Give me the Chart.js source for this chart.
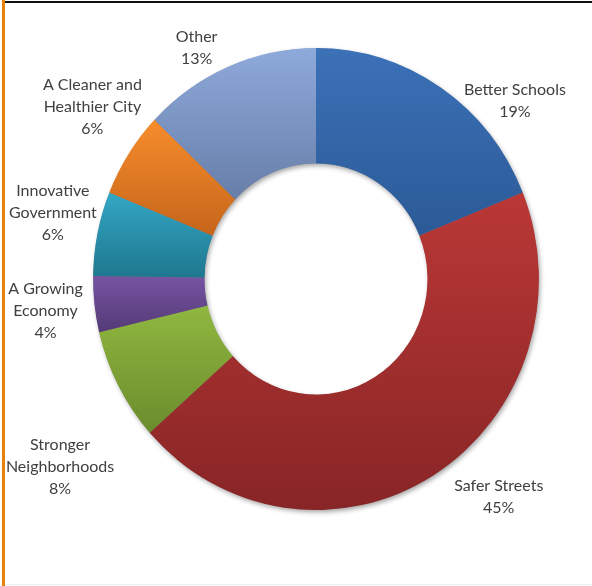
<!DOCTYPE html>
<html>
<head>
<meta charset="utf-8">
<script src="https://cdn.jsdelivr.net/npm/chart.js@4/dist/chart.umd.min.js"></script>
<style>
  html, body { margin: 0; padding: 0; background: #ffffff; }
  #wrap { position: relative; width: 592px; height: 586px; }
</style>
</head>
<body>
<div id="wrap"><canvas id="c" width="592" height="586"></canvas></div>
<script>
// ---- data ----
const categories = [
  ["Better Schools"],
  ["Safer Streets"],
  ["Stronger", "Neighborhoods"],
  ["A Growing", "Economy"],
  ["Innovative", "Government"],
  ["A Cleaner and", "Healthier City"],
  ["Other"]
];
const shares = [18.9, 44.5, 7.9, 3.9, 5.9, 6.0, 12.9];
const percentLabels = ["19%", "45%", "8%", "4%", "6%", "6%", "13%"];
const colorsTop    = ["#3C71B8", "#BA3836", "#90B740", "#7654A2", "#33A7C5", "#F78C2C", "#8EAADB"];
const colorsBottom = ["#2B5A96", "#882526", "#6B8C2C", "#543A77", "#1F778F", "#C5651B", "#677EA8"];

// label block centres, relative to pie centre, in units of the outer radius
const labelOffsets = [
  [0.861, -0.775], [0.791, 0.939], [-1.108, 0.807], [-1.171, 0.134],
  [-1.139, -0.290], [-0.968, -0.751], [-0.517, -1.006]
];

const CUTOUT = 0.5;
const X_SQUEEZE = 0.965; // the reference ring is slightly narrower than tall

function geom(chart) {
  const ca = chart.chartArea;
  const cx = (ca.left + ca.right) / 2, cy = (ca.top + ca.bottom) / 2;
  const R = Math.min(ca.right - ca.left, ca.bottom - ca.top) / 2;
  return { cx, cy, R, r: R * CUTOUT };
}

function sliceGradient(context) {
  const chart = context.chart;
  const i = context.dataIndex;
  if (!chart.chartArea) return colorsTop[i];
  const { cx, cy, R, r } = geom(chart);
  const total = shares.reduce((a, b) => a + b, 0);
  let before = 0;
  for (let k = 0; k < i; k++) before += shares[k];
  const a0 = -Math.PI / 2 + before / total * 2 * Math.PI;
  const a1 = a0 + shares[i] / total * 2 * Math.PI;
  const ys = [cy + R * Math.sin(a0), cy + R * Math.sin(a1), cy + r * Math.sin(a0), cy + r * Math.sin(a1)];
  let ymin = Math.min(...ys), ymax = Math.max(...ys);
  const inRange = (a) => {
    for (let t = a; t < a1 + 1e-9; t += 2 * Math.PI) if (t >= a0 - 1e-9) return true;
    return false;
  };
  if (inRange(Math.PI / 2) || inRange(Math.PI / 2 - 2 * Math.PI)) ymax = cy + R;
  if (inRange(-Math.PI / 2) || inRange(3 * Math.PI / 2)) ymin = cy - R;
  const g = chart.ctx.createLinearGradient(0, ymin, 0, ymax);
  g.addColorStop(0, colorsTop[i]);
  g.addColorStop(1, colorsBottom[i]);
  return g;
}

const framePlugin = {
  id: 'frame',
  beforeDraw(chart) {
    const ctx = chart.ctx;
    ctx.save();
    ctx.fillStyle = '#ffffff';
    ctx.fillRect(0, 0, chart.width, chart.height);
    ctx.fillStyle = '#F0F0F0';
    ctx.fillRect(5, chart.height - 2, chart.width - 5, 1);
    ctx.fillStyle = '#E8830A';
    ctx.fillRect(2, 0, 3, chart.height);
    ctx.fillStyle = '#111111';
    ctx.fillRect(5, 1, chart.width - 5, 2);
    ctx.restore();
  }
};

const squeezePlugin = {
  id: 'squeeze',
  beforeDatasetsDraw(chart) {
    const { cx } = geom(chart);
    const ctx = chart.ctx;
    ctx.save();
    ctx.translate(cx, 0);
    ctx.scale(X_SQUEEZE, 1);
    ctx.translate(-cx, 0);
  },
  afterDatasetsDraw(chart) {
    chart.ctx.restore();
  }
};

const shadowPlugin = {
  id: 'ringShadow',
  beforeDatasetsDraw(chart) {
    const { cx, cy, R, r } = geom(chart);
    const ctx = chart.ctx;
    ctx.save();
    ctx.shadowColor = 'rgba(0,0,0,0.38)';
    ctx.shadowBlur = 5;
    ctx.shadowOffsetX = 1.5;
    ctx.shadowOffsetY = 2.5;
    ctx.fillStyle = '#777777';
    ctx.beginPath();
    ctx.arc(cx, cy, R - 0.5, 0, 2 * Math.PI);
    ctx.arc(cx, cy, r + 0.5, 0, 2 * Math.PI, true);
    ctx.closePath();
    ctx.fill();
    ctx.restore();
  }
};

const labelPlugin = {
  id: 'outLabels',
  afterDraw(chart) {
    const { cx, cy, R } = geom(chart);
    const ctx = chart.ctx;
    ctx.save();
    ctx.font = '16px Lato';
    ctx.fillStyle = '#404040';
    ctx.textAlign = 'center';
    ctx.textBaseline = 'middle';
    const lh = 22;
    categories.forEach((lines, i) => {
      const all = lines.concat([percentLabels[i]]);
      const x = cx + labelOffsets[i][0] * R;
      const y = cy + labelOffsets[i][1] * R;
      const n = all.length;
      all.forEach((t, k) => {
        ctx.fillText(t, x, y + (k - (n - 1) / 2) * lh + 1);
      });
    });
    ctx.restore();
  }
};

function build() {
  new Chart(document.getElementById('c'), {
    type: 'doughnut',
    data: {
      labels: categories,
      datasets: [{
        data: shares,
        backgroundColor: sliceGradient,
        borderWidth: 0,
        hoverOffset: 0
      }]
    },
    options: {
      responsive: false,
      animation: false,
      cutout: (CUTOUT * 100) + '%',
      layout: { padding: { top: 48, bottom: 76, left: 85, right: 45 } },
      plugins: { legend: { display: false }, tooltip: { enabled: false } }
    },
    plugins: [framePlugin, squeezePlugin, shadowPlugin, labelPlugin]
  });
}

if (document.fonts && document.fonts.load) {
  document.fonts.load('16px Lato').then(build, build);
} else {
  build();
}
</script>
</body>
</html>
